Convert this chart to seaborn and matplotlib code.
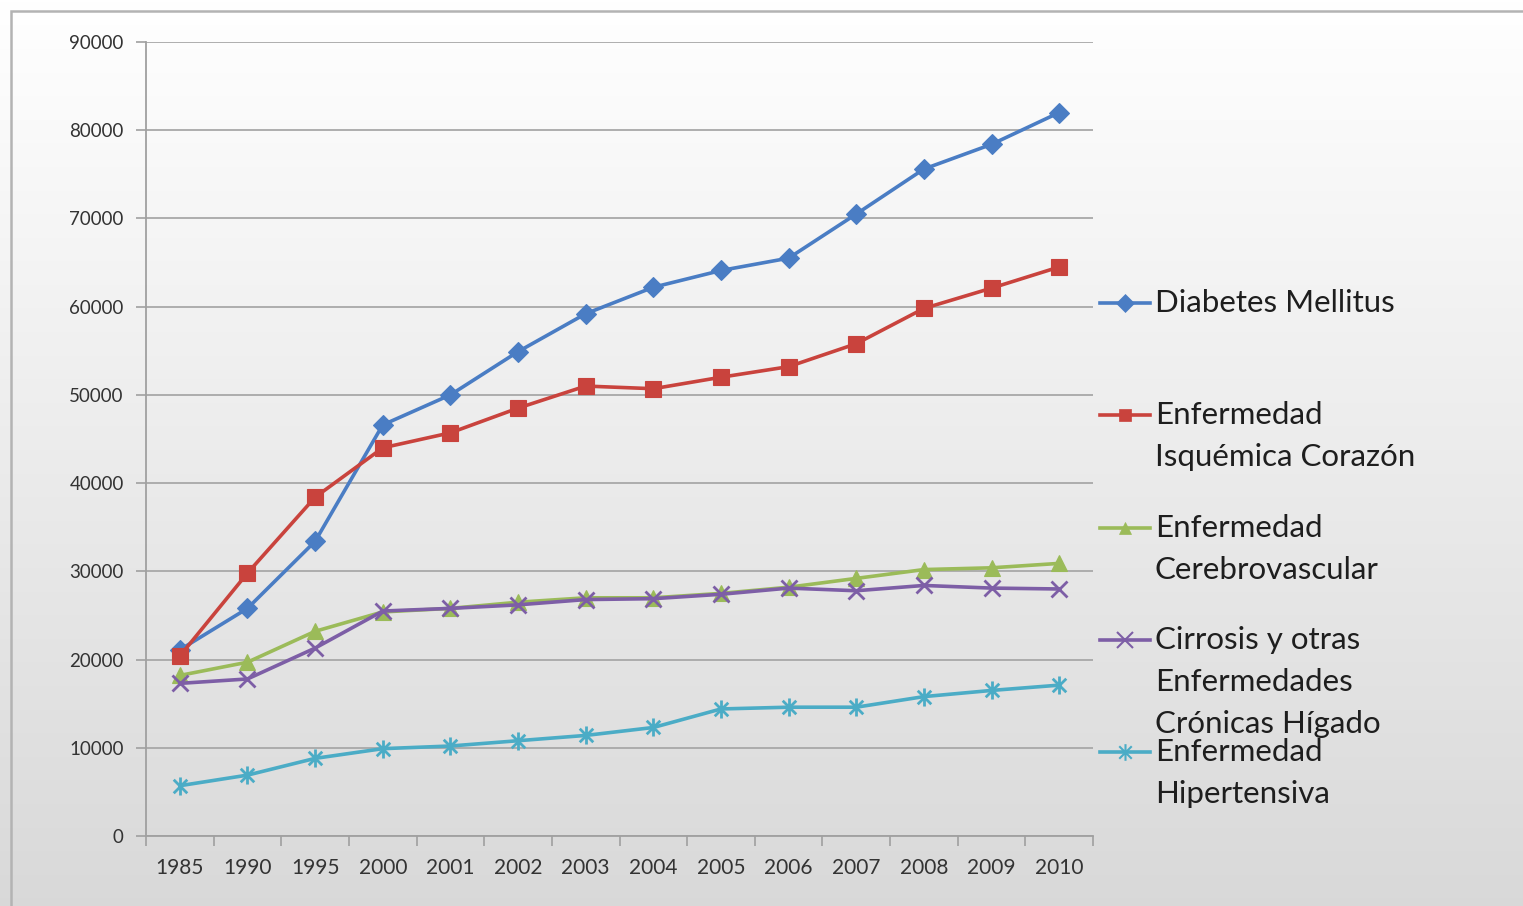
import numpy as np
import pandas as pd
import matplotlib
matplotlib.use("Agg")
import matplotlib.pyplot as plt
import seaborn as sns
from matplotlib.path import Path
from matplotlib.lines import Line2D
from matplotlib.patches import Rectangle

years = ["1985", "1990", "1995", "2000", "2001", "2002", "2003", "2004",
         "2005", "2006", "2007", "2008", "2009", "2010"]
series_names = ["Diabetes Mellitus", "Enfermedad\nIsquémica Corazón",
                "Enfermedad\nCerebrovascular",
                "Cirrosis y otras\nEnfermedades\nCrónicas Hígado",
                "Enfermedad\nHipertensiva"]
diabetes = [21100, 25800, 33400, 46600, 50000, 54900, 59200, 62200, 64100, 65500, 70500, 75600, 78400, 82000]
isquemica = [20400, 29800, 38400, 44000, 45700, 48500, 51000, 50700, 52000, 53200, 55800, 59800, 62100, 64500]
cerebro = [18200, 19700, 23200, 25400, 25800, 26500, 27000, 27000, 27500, 28200, 29200, 30200, 30400, 30900]
cirrosis = [17300, 17800, 21300, 25500, 25800, 26200, 26800, 26900, 27400, 28100, 27800, 28400, 28100, 28000]
hipertensiva = [5700, 6900, 8800, 9900, 10200, 10800, 11400, 12300, 14400, 14600, 14600, 15800, 16500, 17100]
values = [diabetes, isquemica, cerebro, cirrosis, hipertensiva]
yticks = [0, 10000, 20000, 30000, 40000, 50000, 60000, 70000, 80000, 90000]

colors = ["#4a7dc4", "#c9433d", "#9bbb59", "#7d5ea6", "#4bacc6"]
star = Path([(0, -1), (0, 1), (-0.75, -0.75), (0.75, 0.75), (-0.75, 0.75), (0.75, -0.75)],
            [Path.MOVETO, Path.LINETO, Path.MOVETO, Path.LINETO, Path.MOVETO, Path.LINETO])
markers = ["D", "s", "^", "x", star]
msizes = [10, 12, 11, 12, 13]

rows = []
for name, vals in zip(series_names, values):
    for i, (yr, v) in enumerate(zip(years, vals)):
        rows.append({"serie": name, "pos": i, "year": yr, "value": v})
df = pd.DataFrame(rows)

W, H = 1523, 906
fig = plt.figure(figsize=(W / 100, H / 100), dpi=100)
plt.rcParams["font.family"] = ["Lato", "DejaVu Sans"]

# background gradient
bg = fig.add_axes([0, 0, 1, 1], zorder=-10)
grad = np.linspace(1.0, 0.85, 256).reshape(-1, 1)
bg.imshow(np.dstack([grad, grad, grad]), aspect="auto", extent=[0, 1, 0, 1],
          interpolation="bilinear")
bg.set_xlim(0, 1)
bg.set_ylim(0, 1)
bg.axis("off")
bg.add_patch(Rectangle((11 / W, -0.05), 1.1, (H - 11) / H + 0.05, fill=False,
                       edgecolor="#b3b3b3", linewidth=1.8))

ax = fig.add_axes([146 / W, (H - 836) / H, (1093 - 146) / W, (836 - 42) / H])
ax.set_facecolor("none")

for name, col, mk, ms in zip(series_names, colors, markers, msizes):
    sub = df[df["serie"] == name]
    lined = mk in ("x",) or isinstance(mk, Path)
    sns.lineplot(data=sub, x="pos", y="value", ax=ax, color=col, linewidth=2.6,
                 marker=mk, markersize=ms,
                 markeredgecolor=col,
                 markerfacecolor=col,
                 markeredgewidth=2.0 if lined else 0.8,
                 legend=False, zorder=3)

ax.set_xlim(-0.5, len(years) - 0.5)
ax.set_ylim(0, 90000)
ax.set_yticks(yticks)
ax.set_yticklabels([str(v) for v in yticks], fontsize=13.5, color="#333333")
ax.set_xticks(np.arange(len(years) + 1) - 0.5)
ax.set_xticklabels([])
ax.set_xticks(np.arange(len(years)), minor=True)
ax.set_xticklabels(years, minor=True, fontsize=15, color="#333333")
ax.tick_params(axis="x", which="major", length=7, width=1.2, color="#a0a0a0", direction="out")
ax.tick_params(axis="x", which="minor", length=0, pad=16)
ax.tick_params(axis="y", length=7, width=1.2, color="#a0a0a0", pad=9)
ax.set_xlabel("")
ax.set_ylabel("")
ax.grid(axis="y", color="#a8a8a8", linewidth=1.3, zorder=0)
ax.grid(axis="x", visible=False)
ax.set_axisbelow(True)
for s in ["top", "right"]:
    ax.spines[s].set_visible(False)
for s in ["left", "bottom"]:
    ax.spines[s].set_color("#a0a0a0")
    ax.spines[s].set_linewidth(1.3)

# legend drawn Excel-style
leg_y = [303, 415, 528, 640, 752]
for name, col, mk, y in zip(series_names, colors, markers, leg_y):
    lined = mk in ("x",) or isinstance(mk, Path)
    yy = (H - y) / H
    fig.add_artist(Line2D([1100 / W, 1150 / W], [yy, yy], color=col, linewidth=2.6))
    fig.add_artist(Line2D([1125 / W], [yy], color=col, linestyle="none",
                          marker=mk, markersize=9 if not lined else 12,
                          markerfacecolor=col, markeredgecolor=col,
                          markeredgewidth=1.5 if lined else 0.5))
    for k, line in enumerate(name.split("\n")):
        fig.text(1155 / W, (H - y - 42 * k) / H, line, fontsize=22.5, color="#1e1e1e",
                 va="center", ha="left")

fig.savefig("out.png", dpi=100)
